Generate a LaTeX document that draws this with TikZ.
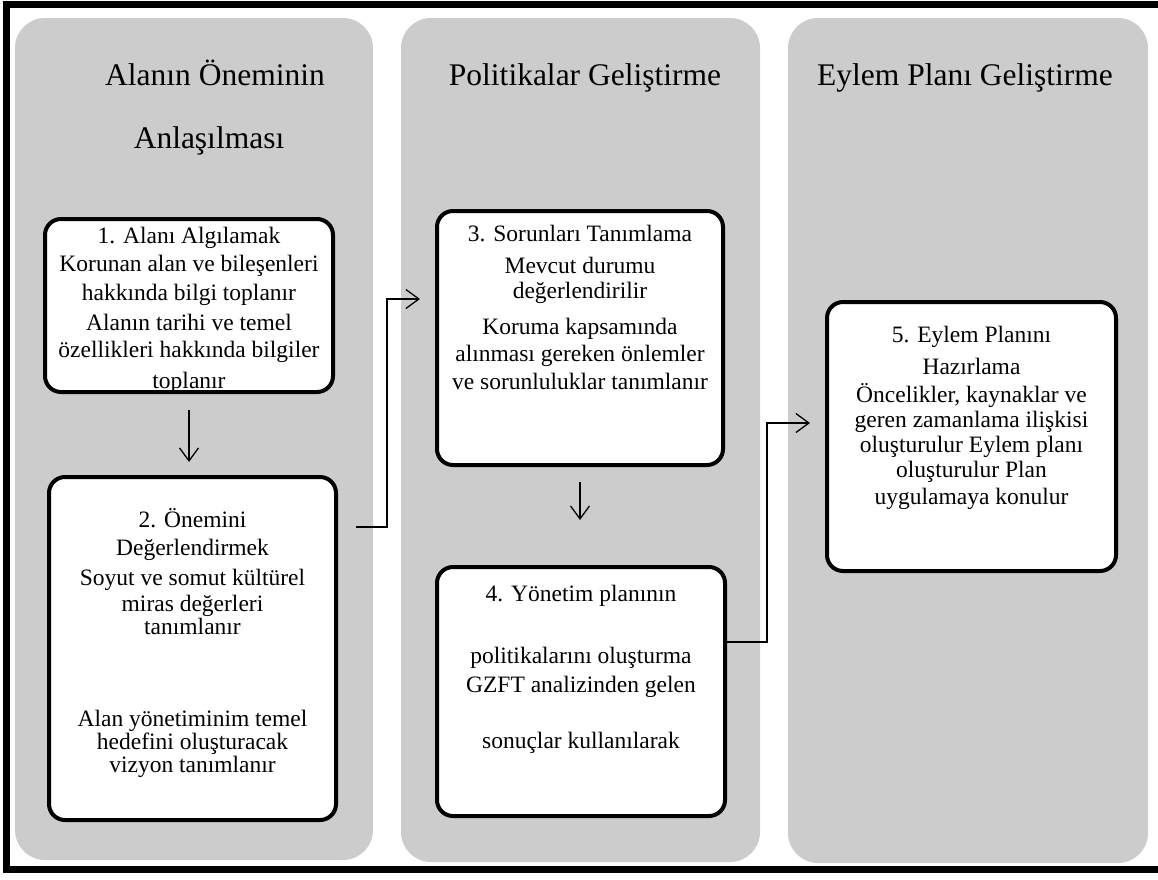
\documentclass[tikz,border=0pt]{standalone}
\usepackage{fontspec}
\setmainfont{Liberation Serif}
\usepackage{xcolor}
\usepackage{tikz}
\usetikzlibrary{arrows.meta, positioning, calc}

\definecolor{panelgray}{HTML}{CCCCCC}
\newcommand{\boxbody}[4]{\parbox[c][#2][t]{#1}{\centering\vspace*{#3}#4}}

\begin{document}
\begin{tikzpicture}[
  x=1pt, y=-1pt,
  panel/.style={fill=panelgray, rounded corners=30pt},
  coltitle/.style={inner sep=0pt, anchor=base, font=\fontsize{31.5}{36}\selectfont},
  stepbox/.style={draw, line width=4pt, rounded corners=16pt, fill=white, inner sep=0pt, font=\fontsize{23.5}{26}\selectfont},
  flow/.style={-{Straight Barb[length=13pt,width=19pt]}, line width=1.3pt}
]
  \useasboundingbox (0,0) rectangle (1158,879);
  \draw[line width=7pt] (6.5,4.5) rectangle (1180,869);

  % three phases
  \fill[panel] (15,18) rectangle (373,860);
  \fill[panel] (401,18) rectangle (760,862);
  \fill[panel] (788,18) rectangle (1148,863);

  \node[coltitle] (t1a) at (215,85) {Alanın Öneminin};
  \node[coltitle] (t1b) at (209,148) {Anlaşılması};
  \node[coltitle] (t2) at (585,85) {Politikalar Geliştirme};
  \node[coltitle] (t3) at (965,85) {Eylem Planı Geliştirme};

  % steps
  \node[stepbox] (b1) at (189,305.5) {\boxbody{288pt}{173pt}{8pt}{%
    1. Alanı Algılamak\\[2pt]
    Korunan alan ve bileşenleri\\[3pt]
    hakkında bilgi toplanır\\[4pt]
    Alanın tarihi ve temel\\[1pt]
    özellikleri hakkında bilgiler\\[5pt]
    toplanır}};
  \node[stepbox] (b2) at (192.5,648.5) {\boxbody{287pt}{343pt}{31pt}{%
    2. Önemini\\[2pt]
    Değerlendirmek\\[4pt]
    Soyut ve somut kültürel\\
    miras değerleri\\[-3pt]
    tanımlanır\\[66pt]
    Alan yönetiminim temel\\[-3pt]
    hedefini oluşturacak\\[-3pt]
    vizyon tanımlanır}};
  \node[stepbox] (b3) at (580,338) {\boxbody{286pt}{254pt}{14pt}{%
    3. Sorunları Tanımlama\\[6pt]
    Mevcut durumu\\[-1pt]
    değerlendirilir\\[10pt]
    Koruma kapsamında\\[1pt]
    alınması gereken önlemler\\[2pt]
    ve sorunluluklar tanımlanır}};
  \node[stepbox] (b4) at (581,691.5) {\boxbody{288pt}{249pt}{18pt}{%
    4. Yönetim planının\\[36pt]
    politikalarını oluşturma\\[3pt]
    GZFT analizinden gelen\\[30pt]
    sonuçlar kullanılarak}};
  \node[stepbox] (b5) at (971.5,436.5) {\boxbody{289pt}{269pt}{24pt}{%
    5. Eylem Planını\\[6pt]
    Hazırlama\\[2pt]
    Öncelikler, kaynaklar ve\\[-1pt]
    geren zamanlama ilişkisi\\[-1pt]
    oluşturulur Eylem planı\\[-1pt]
    oluşturulur Plan\\[1pt]
    uygulamaya konulur}};

  % connectors
  \draw[flow, shorten <=16pt, shorten >=13pt] (b1.south) -- (b1.south |- b2.north);
  \draw[flow, shorten <=15pt, shorten >=45pt] (b3.south) -- (b3.south |- b4.north);
  \draw[flow, shorten <=18pt] ([yshift=-52pt]b2.north east) -- ++(49,0) |- ([xshift=-15pt,yshift=39pt]b3.west);
  \draw[flow] ([yshift=-77pt]b4.north east) -- ++(40,0) |- ([xshift=-15pt,yshift=13.5pt]b5.west);
\end{tikzpicture}
\end{document}
